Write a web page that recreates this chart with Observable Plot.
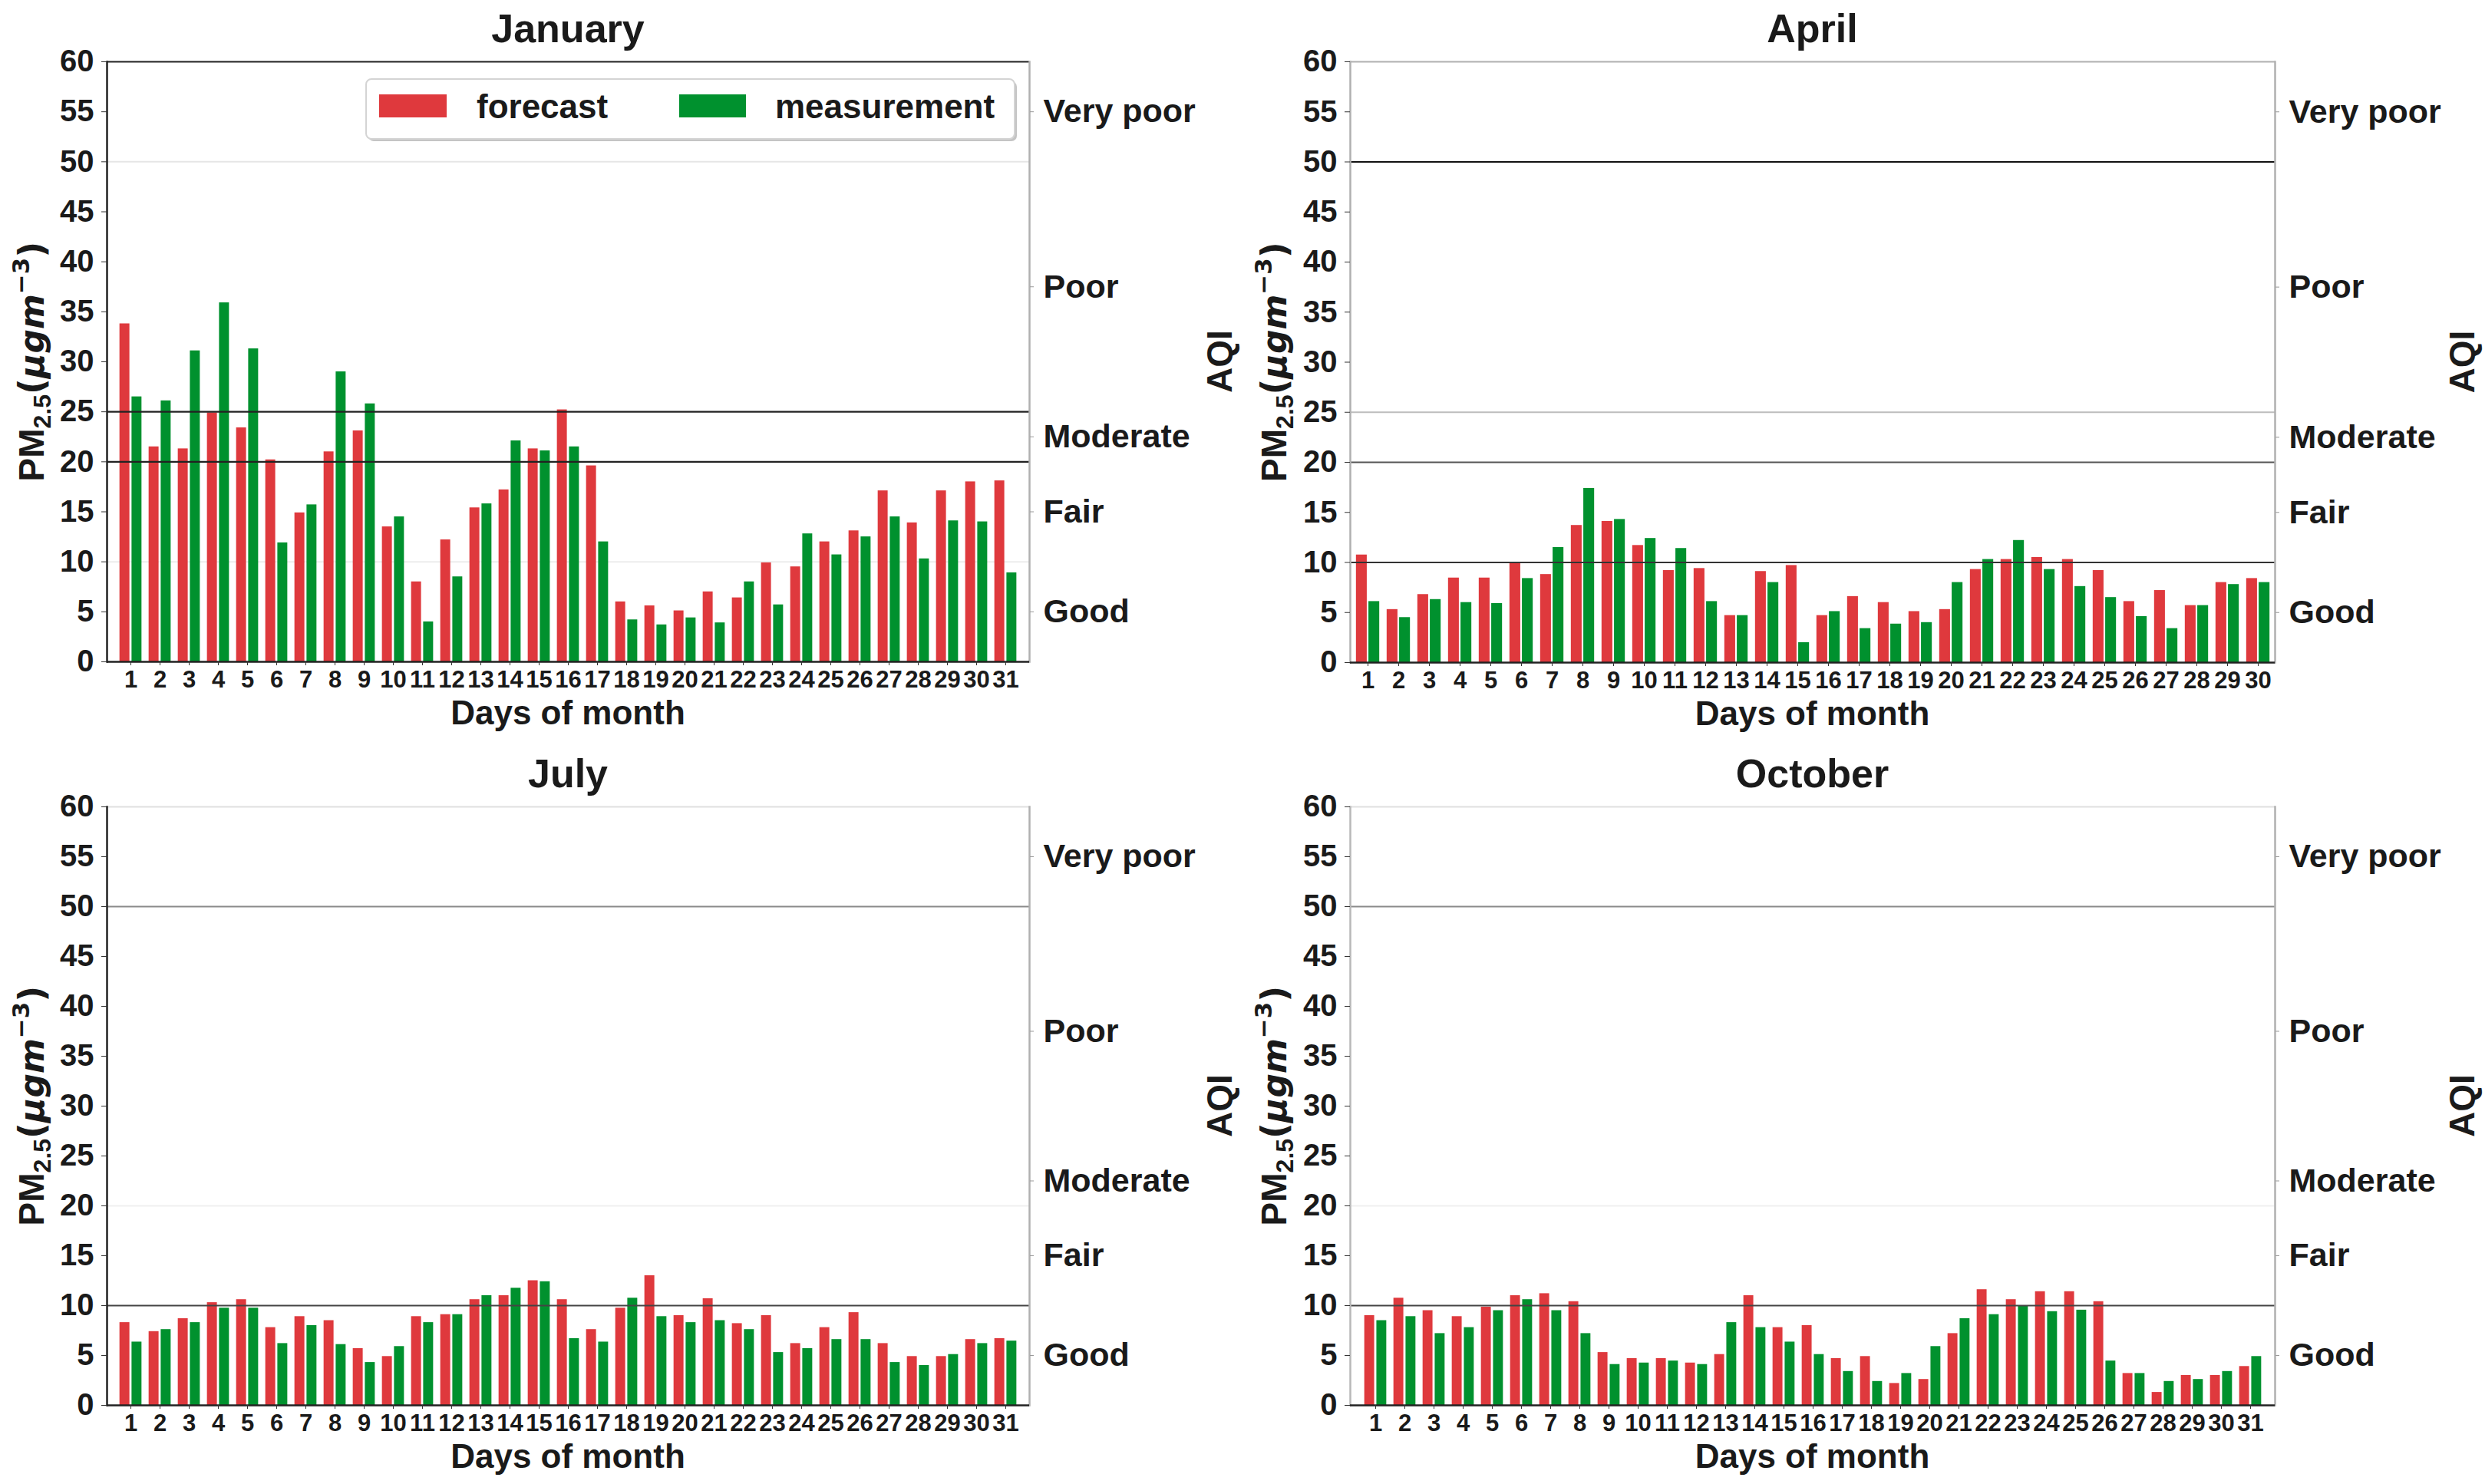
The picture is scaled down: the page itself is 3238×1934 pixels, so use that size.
<!DOCTYPE html>
<html><head><meta charset="utf-8">
<script src="https://cdn.jsdelivr.net/npm/d3@7"></script>
<script src="https://cdn.jsdelivr.net/npm/@observablehq/plot@0.6"></script>
<style>
html,body{margin:0;padding:0;background:#fff;}
#root{position:relative;width:3238px;height:1934px;font-family:"Liberation Sans",Arial,sans-serif;}
.panel{position:absolute;}
</style></head><body><div id="root"></div>
<script>
// ---- data ----
const days31 = [1,2,3,4,5,6,7,8,9,10,11,12,13,14,15,16,17,18,19,20,21,22,23,24,25,26,27,28,29,30,31];
const days30 = [1,2,3,4,5,6,7,8,9,10,11,12,13,14,15,16,17,18,19,20,21,22,23,24,25,26,27,28,29,30];
const yTicks = [0,5,10,15,20,25,30,35,40,45,50,55,60];
const aqiTicks = [5, 15, 22.5, 37.5, 55];
const aqiLabels = ["Good", "Fair", "Moderate", "Poor", "Very poor"];
const seriesNames = ["forecast", "measurement"];

const janForecast = [33.8,21.5,21.3,24.9,23.4,20.2,14.9,21.0,23.1,13.5,8.0,12.2,15.4,17.2,21.3,25.2,19.6,6.0,5.6,5.1,7.0,6.4,9.9,9.5,12.0,13.1,17.1,13.9,17.1,18.0,18.1];
const janMeasurement = [26.5,26.1,31.1,35.9,31.3,11.9,15.7,29.0,25.8,14.5,4.0,8.5,15.8,22.1,21.1,21.5,12.0,4.2,3.7,4.4,3.9,8.0,5.7,12.8,10.7,12.5,14.5,10.3,14.1,14.0,8.9];
const aprForecast = [10.75,5.3,6.8,8.45,8.45,10.0,8.8,13.7,14.1,11.7,9.2,9.4,4.7,9.1,9.7,4.7,6.6,6.0,5.1,5.3,9.3,10.3,10.5,10.3,9.2,6.1,7.2,5.7,8.0,8.4];
const aprMeasurement = [6.1,4.5,6.3,6.0,5.9,8.4,11.5,17.4,14.3,12.4,11.4,6.1,4.7,8.0,2.0,5.1,3.4,3.85,4.0,8.0,10.3,12.2,9.3,7.6,6.5,4.6,3.4,5.7,7.8,8.0];
const julForecast = [8.3,7.4,8.7,10.3,10.6,7.8,8.9,8.5,5.7,4.9,8.9,9.1,10.6,11.0,12.5,10.6,7.6,9.75,13.0,9.0,10.7,8.2,9.0,6.2,7.8,9.3,6.2,4.9,4.9,6.6,6.7];
const julMeasurement = [6.35,7.6,8.3,9.75,9.75,6.2,8.0,6.1,4.3,5.9,8.3,9.1,11.0,11.75,12.4,6.7,6.35,10.75,8.9,8.3,8.5,7.6,5.3,5.7,6.6,6.6,4.3,4.0,5.1,6.2,6.45];
const octForecast = [9.0,10.75,9.5,8.9,9.85,11.0,11.2,10.4,5.3,4.7,4.7,4.25,5.1,11.0,7.8,8.0,4.7,4.9,2.2,2.6,7.2,11.6,10.6,11.4,11.4,10.4,3.2,1.3,3.0,3.0,3.9];
const octMeasurement = [8.5,8.9,7.2,7.8,9.5,10.6,9.5,7.2,4.1,4.25,4.45,4.1,8.3,7.8,6.35,5.1,3.4,2.4,3.2,5.9,8.7,9.1,10.0,9.4,9.55,4.45,3.2,2.4,2.6,3.4,4.9];

// threshold lines per panel: [value, colour, drawn over bars]
const janLines = [[50,"#e6e6e6",0],[10,"#ececec",0],[25,"#222",1],[20,"#222",1],[60,"#222",1]];
const aprLines = [[25,"#bdbdbd",0],[60,"#b0b0b0",0],[50,"#111",1],[20,"#555",1],[10,"#333",1]];
const julLines = [[20,"#f0f0f0",0],[60,"#e0e0e0",0],[50,"#8a8a8a",1],[10,"#444",1]];
const octLines = [[20,"#f0f0f0",0],[60,"#e0e0e0",0],[50,"#8a8a8a",1],[10,"#444",1]];

// ---- style ----
const RED = "#df393d", GREEN = "#00912e";
const FONT = '"Liberation Sans", Arial, sans-serif';
const MATH = '"DejaVu Sans", sans-serif';
const W = 1619, H = 967;

const panels = [
  {title:"January", days:days31, f:janForecast, m:janMeasurement, lines:janLines, left:0, top:0, mt:80, mb:105, ml:139, mr:278, leftAxis:"#222", legend:true},
  {title:"April", days:days30, f:aprForecast, m:aprMeasurement, lines:aprLines, left:1619, top:0, mt:80, mb:104, ml:140, mr:274, leftAxis:"#b0b0b0"},
  {title:"July", days:days31, f:julForecast, m:julMeasurement, lines:julLines, left:0, top:967, mt:84, mb:103, ml:139, mr:278, leftAxis:"#222"},
  {title:"October", days:days31, f:octForecast, m:octMeasurement, lines:octLines, left:1619, top:967, mt:84, mb:103, ml:140, mr:274, leftAxis:"#b8b8b8"},
];

const root = document.getElementById("root");

for (const p of panels) {
  const rowsF = p.days.map((d,i)=>({day:d, value:p.f[i], series:seriesNames[0]}));
  const rowsM = p.days.map((d,i)=>({day:d, value:p.m[i], series:seriesNames[1]}));
  const plotW = W - p.ml - p.mr;
  const step = plotW / p.days.length;
  const outer = 0.12*step, inner = 0.5*step + 1;
  const lines = p.lines.map(([v,c,o])=>({v,c,o}));
  const under = lines.filter(l => !l.o);
  const over = lines.filter(l => l.o);

  const chart = Plot.plot({
    width: W, height: H,
    marginLeft: p.ml, marginRight: p.mr, marginTop: p.mt, marginBottom: p.mb,
    style: {fontFamily: FONT, fontWeight: "bold", color: "#1a1a1a", background: "transparent", overflow: "visible"},
    x: {type: "band", domain: p.days, padding: 0, axis: null},
    y: {domain: [0, 60], axis: null},
    marks: [
      Plot.ruleY(under, {y: "v", stroke: "c", strokeWidth: 2}),
      Plot.barY(rowsF, {x: "day", y: "value", fill: RED, insetLeft: outer, insetRight: inner}),
      Plot.barY(rowsM, {x: "day", y: "value", fill: GREEN, insetLeft: inner, insetRight: outer}),
      Plot.ruleY(over, {y: "v", stroke: "c", strokeWidth: 2.2}),
      Plot.frame({anchor: "left", stroke: p.leftAxis, strokeWidth: 2.5}),
      Plot.frame({anchor: "right", stroke: "#b0b0b0", strokeWidth: 2.5}),
      Plot.ruleY([0], {stroke: "#222", strokeWidth: 2.5}),
      Plot.axisY({anchor: "left", ticks: yTicks, tickSize: 7, tickPadding: 10, fontSize: 40, label: null, stroke: "#333", fill: "#1a1a1a"}),
      Plot.axisY({anchor: "right", ticks: aqiTicks, tickFormat: d => aqiLabels[aqiTicks.indexOf(d)], tickSize: 5, tickPadding: 13, fontSize: 43, label: null, stroke: "#999", fill: "#1a1a1a"}),
      Plot.axisX({ticks: p.days, tickSize: 5, tickPadding: 6, fontSize: 31, label: null, stroke: "#333", fill: "#1a1a1a"})
    ]
  });
  const wrap = document.createElement("div");
  wrap.className = "panel";
  wrap.style.left = p.left + "px";
  wrap.style.top = p.top + "px";
  wrap.appendChild(chart);
  root.appendChild(wrap);

  const svg = d3.select(chart);
  const cx = p.ml + plotW/2;
  const bottom = H - p.mb;
  const cy = (p.mt + bottom)/2;
  const txt = (sel) => sel.attr("font-family", FONT).attr("font-weight", "bold").attr("fill", "#1a1a1a");

  txt(svg.append("text")).attr("x", cx).attr("y", p.mt - 25).attr("text-anchor", "middle").attr("font-size", 52).text(p.title);
  txt(svg.append("text")).attr("x", cx).attr("y", bottom + 82).attr("text-anchor", "middle").attr("font-size", 44).text("Days of month");

  const yl = txt(svg.append("text")).attr("transform", `translate(57,${cy}) rotate(-90)`).attr("text-anchor", "middle").attr("font-size", 46);
  yl.append("tspan").text("PM");
  yl.append("tspan").attr("font-size", 32).attr("dy", 9).text("2.5");
  yl.append("tspan").attr("dy", -9).attr("font-family", MATH).text("(");
  yl.append("tspan").attr("font-family", MATH).attr("font-style", "italic").attr("font-size", 44).text("μgm");
  yl.append("tspan").attr("font-family", MATH).attr("font-size", 31).attr("dy", -19).text("−3");
  yl.append("tspan").attr("font-family", MATH).attr("dy", 19).text(")");

  txt(svg.append("text")).attr("transform", `translate(1605,${cy}) rotate(-90)`).attr("text-anchor", "middle").attr("font-size", 46).text("AQI");

  if (p.legend) {
    const g = svg.append("g").attr("text-anchor", "start");
    g.append("rect").attr("x", 480).attr("y", 106).attr("width", 845).attr("height", 78).attr("rx", 7).attr("fill", "#c4c4c4");
    g.append("rect").attr("x", 477).attr("y", 103).attr("width", 845).attr("height", 78).attr("rx", 7).attr("fill", "#fff").attr("stroke", "#d4d4d4").attr("stroke-width", 2);
    g.append("rect").attr("x", 494).attr("y", 123).attr("width", 88).attr("height", 30).attr("fill", RED);
    txt(g.append("text")).attr("x", 621).attr("y", 154).attr("text-anchor", "start").attr("font-size", 44).text(seriesNames[0]);
    g.append("rect").attr("x", 885).attr("y", 123).attr("width", 87).attr("height", 30).attr("fill", GREEN);
    txt(g.append("text")).attr("x", 1010).attr("y", 154).attr("text-anchor", "start").attr("font-size", 44).text(seriesNames[1]);
  }
}
</script></body></html>
